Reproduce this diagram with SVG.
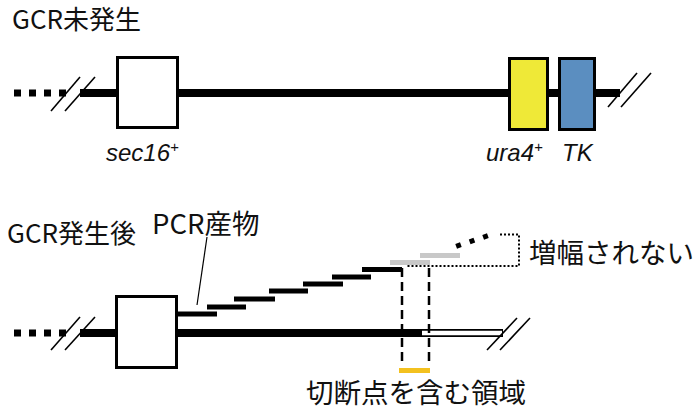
<svg xmlns="http://www.w3.org/2000/svg" width="693" height="413" viewBox="0 0 693 413">
<style>
.jp{font-family:"Noto Sans CJK JP","Noto Sans",sans-serif;font-size:26px;fill:#111}
.jpl{font-size:27.5px}
.gene{font-family:"Liberation Sans",Arial,sans-serif;font-style:italic;font-size:24px;fill:#111}
.main{stroke:#000;stroke-width:8;fill:none}
.dots{stroke:#000;stroke-width:7;stroke-dasharray:7 8;fill:none}
.slash{stroke:#000;stroke-width:1.6;fill:none}
.box{stroke:#000;stroke-width:3}
.bar{stroke:#000;stroke-width:5}
.gray{stroke:#c8c8c8;stroke-width:5}
.dash{stroke:#000;stroke-width:2.5;stroke-dasharray:9 5;fill:none}
.dot{stroke:#000;stroke-width:2;stroke-dasharray:2 2;fill:none}
</style>
<rect width="693" height="413" fill="#fff"/>

<text class="jp" x="12" y="29">GCR未発生</text>
<text class="jp" x="7" y="243">GCR発生後</text>

<g id="connectors">
  <!-- top chromosome -->
  <line class="dots" x1="14" y1="93" x2="67" y2="93"/>
  <line class="main" x1="80" y1="93" x2="620" y2="93"/>
  <line class="slash" x1="51" y1="111" x2="80" y2="77"/>
  <line class="slash" x1="65" y1="111" x2="95" y2="77"/>
  <line class="slash" x1="608" y1="107" x2="637" y2="73"/>
  <line class="slash" x1="621" y1="107" x2="651" y2="73"/>

  <!-- bottom chromosome -->
  <line class="dots" x1="14" y1="333" x2="67" y2="333"/>
  <line class="main" x1="80" y1="333" x2="503" y2="333"/>
  <line x1="422" y1="333" x2="502" y2="333" stroke="#fff" stroke-width="4.5"/>
  <line class="slash" x1="51" y1="350" x2="80" y2="317"/>
  <line class="slash" x1="65" y1="350" x2="95" y2="317"/>
  <line class="slash" x1="487" y1="350" x2="517" y2="318"/>
  <line class="slash" x1="500" y1="350" x2="530" y2="318"/>

  <!-- PCR products -->
  <line class="bar" x1="178" y1="314" x2="217" y2="314"/>
  <line class="bar" x1="207" y1="307" x2="246" y2="307"/>
  <line class="bar" x1="234" y1="299" x2="275" y2="299"/>
  <line class="bar" x1="269" y1="291" x2="308" y2="291"/>
  <line class="bar" x1="303" y1="284" x2="343" y2="284"/>
  <line class="bar" x1="332" y1="277" x2="371" y2="277"/>
  <line class="bar" x1="362" y1="269.5" x2="402" y2="269.5"/>
  <line class="gray" x1="390" y1="262.5" x2="430" y2="262.5"/>
  <line class="gray" x1="420" y1="255.5" x2="460" y2="255.5"/>

  <!-- not amplified -->
  <rect x="456" y="243" width="5" height="5" fill="#000" transform="rotate(-20 458.5 245.5)"/>
  <rect x="469.5" y="238.5" width="5" height="5" fill="#000" transform="rotate(-20 472 241)"/>
  <rect x="483" y="234" width="5" height="5" fill="#000" transform="rotate(-20 485.5 236.5)"/>
  <polyline class="dot" points="500,234.5 519,234.5 519,266 407,266"/>

  <!-- label leader -->
  <line x1="207" y1="237" x2="197" y2="305" stroke="#000" stroke-width="1.2"/>

  <!-- breakpoint region -->
  <line class="dash" x1="402" y1="268" x2="402" y2="365"/>
  <line class="dash" x1="429" y1="268" x2="429" y2="365"/>
  <line x1="399" y1="370.5" x2="430" y2="370.5" stroke="#f3c11f" stroke-width="5"/>
</g>

<g id="sec16-top">
  <rect class="box" x="117.5" y="57.5" width="60" height="70" fill="#fff"/>
  <text class="gene" x="106" y="161">sec16<tspan font-size="15" dy="-9">+</tspan></text>
</g>
<g id="ura4">
  <rect class="box" x="509.5" y="58.5" width="38" height="71" fill="#efe937"/>
  <text class="gene" x="486" y="161">ura4<tspan font-size="15" dy="-9">+</tspan></text>
</g>
<g id="tk">
  <rect class="box" x="559.5" y="58.5" width="35" height="71" fill="#5b8ec0"/>
  <text class="gene" x="562" y="161">TK</text>
</g>
<g id="sec16-bottom">
  <rect class="box" x="116.5" y="296.5" width="60" height="71" fill="#fff"/>
</g>
<g id="label-pcr">
  <text class="jp jpl" x="152" y="234">PCR産物</text>
</g>
<g id="label-noamp">
  <text class="jp jpl" x="529" y="263">増幅されない</text>
</g>
<g id="label-break">
  <text class="jp jpl" x="306" y="403">切断点を含む領域</text>
</g>
</svg>
